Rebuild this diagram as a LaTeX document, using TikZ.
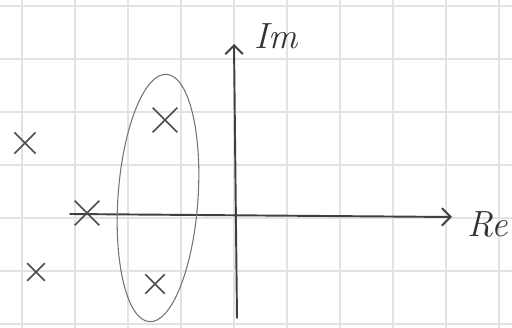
\documentclass[tikz,border=0pt]{standalone}
\usetikzlibrary{arrows.meta,shapes.misc}
\begin{document}
\begin{tikzpicture}[x=0.02cm,y=-0.02cm,
  gridline/.style={gray!22,line width=0.6pt},
  pen/.style={draw=black!75,line width=1.1pt,line cap=round},
  axis/.style={pen,-{Straight Barb[length=5pt,width=10pt]}},
  pole/.style={cross out,draw=black!70,line width=1pt,inner sep=0pt},
  hand/.style={font=\huge\itshape,text=black!80},
  loop/.style={draw=black!55,line width=0.6pt},
]
\useasboundingbox (0,0) rectangle (512,328);

% squared paper
\foreach \gx in {22,75,...,500} \draw[gridline] (\gx,0) -- (\gx,328);
\foreach \gy in {6,59,...,325} \draw[gridline] (0,\gy) -- (512,\gy);

% axes
\coordinate (reA) at (70,214);
\coordinate (reB) at (452,217);
\coordinate (imA) at (237,318);
\coordinate (imB) at (234,44);
\draw[axis] (reA) -- (reB);
\draw[axis] (imA) -- (imB);
\node[hand] (im) at (276,36) {Im};
\node[hand] (re) at (488,224) {Re};

% poles
\node[pole,minimum size=13pt] (p1) at (87,213) {};
\node[pole,minimum size=11pt] (p2) at (25,143) {};
\node[pole,minimum size=9pt]  (p3) at (36,272) {};
\node[pole,minimum size=13pt] (p4) at (165,120) {};
\node[pole,minimum size=10pt] (p5) at (155,284) {};

% dominant pair
\draw[loop,rotate around={-4:(158,198)}] (158,198) ellipse [x radius=0.8cm,y radius=2.48cm];

\end{tikzpicture}
\end{document}
